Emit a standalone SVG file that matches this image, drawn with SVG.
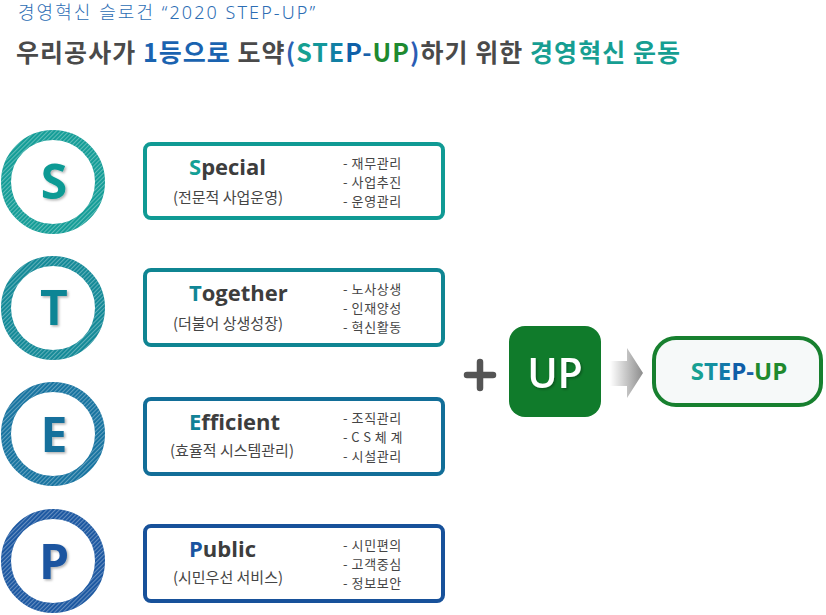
<svg xmlns="http://www.w3.org/2000/svg" width="826" height="615" viewBox="0 0 826 615">
  <defs>
    <pattern id="hatch" patternUnits="userSpaceOnUse" width="3" height="3" patternTransform="rotate(45)">
      <rect x="0" y="0" width="1.1" height="3" fill="#ffffff" fill-opacity="0.33"/>
    </pattern>
    <linearGradient id="arrowGrad" x1="0" y1="0" x2="1" y2="0">
      <stop offset="0" stop-color="#ffffff"/>
      <stop offset="1" stop-color="#8c8c8c"/>
    </linearGradient>
    <filter id="shadow" x="-20%" y="-20%" width="150%" height="150%">
      <feDropShadow dx="1.5" dy="1.5" stdDeviation="1" flood-color="#000" flood-opacity="0.3"/>
    </filter>
    <style>
      .ring { fill: none; stroke-width: 10; }
      .hatch { fill: none; stroke-width: 10; stroke: url(#hatch); }
      .big { font-family: "Open Sans", "Liberation Sans", sans-serif; font-weight: 700; font-size: 48px; text-anchor: middle; filter: url(#shadow); }
      .box { fill: #ffffff; stroke-width: 4; }
      .ttl { font-family: "Open Sans", "Liberation Sans", sans-serif; font-weight: 700; font-size: 22px; fill: #3d3d3d; }
      .sub { font-family: "Noto Sans CJK KR", sans-serif; font-size: 15px; fill: #454545; text-anchor: middle; }
      .bul { font-family: "Noto Sans CJK KR", sans-serif; font-size: 13px; letter-spacing: 0.6px; fill: #454545; }
    </style>
  </defs>

  <g id="header">
    <text x="18" y="19" font-family="Noto Sans, Noto Sans CJK KR, sans-serif" font-size="18" font-weight="300" fill="#2c6db4" textLength="297" lengthAdjust="spacing">경영혁신 슬로건 “2020 STEP-UP”</text>
    <text x="16" y="62" font-family="Noto Sans CJK KR, sans-serif" font-size="25" font-weight="700" fill="#4a4a4a" textLength="664" lengthAdjust="spacing">우리공사가 <tspan fill="#1a63b0">1등으로</tspan> 도약<tspan fill="#2a62b4">(</tspan><tspan fill="#16a092">S</tspan><tspan fill="#13979a">T</tspan><tspan fill="#1280a4">E</tspan><tspan fill="#0f60a8">P</tspan><tspan fill="#1a62aa">-</tspan><tspan fill="#1e8a30">UP</tspan><tspan fill="#2a5cb4">)</tspan>하기 위한 <tspan fill="#169e92">경영혁신 운동</tspan></text>
  </g>

  <g id="node-S">
    <circle class="ring" cx="53" cy="182" r="47" stroke="#129c96"/>
    <circle class="hatch" cx="53" cy="182" r="47"/>
    <text class="big" x="54" y="199" fill="#119a94">S</text>
    <rect class="box" x="145" y="144" width="298" height="74" rx="6" stroke="#109a94"/>
    <text class="ttl" x="189" y="175"><tspan fill="#14a096">S</tspan>pecial</text>
    <text class="sub" x="228" y="203">(전문적 사업운영)</text>
    <text class="bul" x="343" y="168">- 재무관리</text>
    <text class="bul" x="343" y="187">- 사업추진</text>
    <text class="bul" x="343" y="206">- 운영관리</text>
  </g>

  <g id="node-T">
    <circle class="ring" cx="53" cy="308" r="47" stroke="#118896"/>
    <circle class="hatch" cx="53" cy="308" r="47"/>
    <text class="big" x="54" y="325" fill="#0e8595">T</text>
    <rect class="box" x="145" y="270" width="298" height="75" rx="6" stroke="#0f8592"/>
    <text class="ttl" x="189" y="301"><tspan fill="#0f8696">T</tspan>ogether</text>
    <text class="sub" x="228" y="329">(더불어 상생성장)</text>
    <text class="bul" x="343" y="294">- 노사상생</text>
    <text class="bul" x="343" y="313">- 인재양성</text>
    <text class="bul" x="343" y="332">- 혁신활동</text>
  </g>

  <g id="node-E">
    <circle class="ring" cx="53" cy="434" r="47" stroke="#15729f"/>
    <circle class="hatch" cx="53" cy="434" r="47"/>
    <text class="big" x="54" y="452" fill="#12709c">E</text>
    <rect class="box" x="145" y="399" width="298" height="75" rx="6" stroke="#126e98"/>
    <text class="ttl" x="189" y="430"><tspan fill="#128296">E</tspan>fficient</text>
    <text class="sub" x="232" y="456">(효율적 시스템관리)</text>
    <text class="bul" x="343" y="423">- 조직관리</text>
    <text class="bul" x="343" y="442" textLength="60" lengthAdjust="spacing">- C S 체 계</text>
    <text class="bul" x="343" y="461">- 시설관리</text>
  </g>

  <g id="node-P">
    <circle class="ring" cx="53" cy="561" r="47" stroke="#1a56a0"/>
    <circle class="hatch" cx="53" cy="561" r="47"/>
    <text class="big" x="54" y="579" fill="#1a55a0">P</text>
    <rect class="box" x="145" y="526" width="298" height="75" rx="6" stroke="#17519a"/>
    <text class="ttl" x="189" y="557"><tspan fill="#1a55a0">P</tspan>ublic</text>
    <text class="sub" x="228" y="583">(시민우선 서비스)</text>
    <text class="bul" x="343" y="550">- 시민편의</text>
    <text class="bul" x="343" y="569">- 고객중심</text>
    <text class="bul" x="343" y="588">- 정보보안</text>
  </g>

  <g id="node-UP">
    <rect x="509" y="326" width="92" height="91" rx="16" fill="#107b2b"/>
    <text x="555" y="388" font-family="Open Sans, Liberation Sans, sans-serif" font-weight="600" font-size="41" fill="#ffffff" text-anchor="middle" filter="url(#shadow)">UP</text>
  </g>

  <g id="node-STEPUP">
    <rect x="654" y="338" width="167" height="67" rx="22" fill="#f6f9f9" stroke="#17802f" stroke-width="4"/>
    <text x="739" y="380" font-family="Open Sans, Liberation Sans, sans-serif" font-weight="700" font-size="24" text-anchor="middle"><tspan fill="#17a092">S</tspan><tspan fill="#1390a0">T</tspan><tspan fill="#1278a8">E</tspan><tspan fill="#0e5ea8">P</tspan><tspan fill="#1b60a8">-</tspan><tspan fill="#1f8a2e">UP</tspan></text>
  </g>

  <g id="connectors">
    <path d="M467 375 H493 M480 362 V388" stroke="#555555" stroke-width="6.5" stroke-linecap="round" fill="none"/>
    <polygon points="610,361 627,361 627,348 643,373 627,398 627,386 610,386" fill="url(#arrowGrad)"/>
  </g>
</svg>
